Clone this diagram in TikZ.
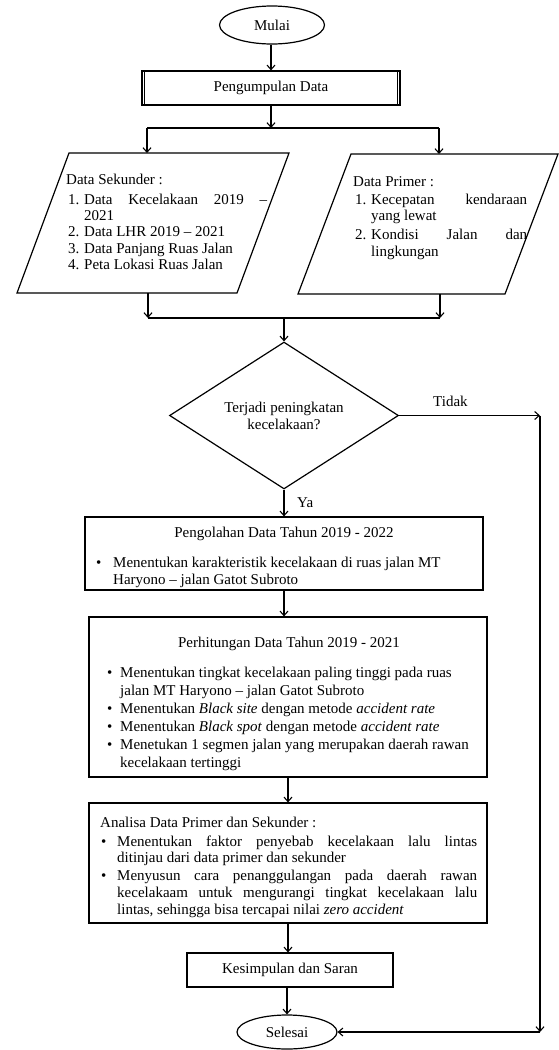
\documentclass[tikz,border=0pt]{standalone}
\usepackage{fontspec}
\setmainfont{Liberation Serif}
\usetikzlibrary{arrows.meta,shapes.geometric}
\begin{document}
\begin{tikzpicture}[x=1pt,y=-1pt,
  ln/.style={line width=1.1pt},
  arr/.style={line width=1.1pt,-{Straight Barb[length=4.5pt,width=8pt]}},
  box/.style={draw,line width=1.2pt,rectangle,inner sep=0pt},
  oval/.style={draw,line width=1.2pt,ellipse,inner sep=0pt,font=\fontsize{15}{18}\selectfont},
  txt/.style={inner sep=0pt,font=\fontsize{15}{18}\selectfont},
  bl/.style={txt,anchor=base west}]
\useasboundingbox (0,0) rectangle (559,1050);

% start
\node[oval,minimum width=105pt,minimum height=38pt] (mulai) at (272,25) {Mulai};
\node[box,minimum width=258pt,minimum height=34pt,font=\fontsize{15}{18}\selectfont] (kumpul) at (271,88) {Pengumpulan Data};
\draw[ln] ([xshift=3pt]kumpul.north west) -- ([xshift=3pt]kumpul.south west);
\draw[ln] ([xshift=-3pt]kumpul.north east) -- ([xshift=-3pt]kumpul.south east);
\draw[arr] (mulai.south -| kumpul.north) -- (kumpul.north);

% split
\coordinate (split) at (271,128);
\coordinate (sL) at (147,128);
\coordinate (sR) at (439,128);
\draw[arr] (kumpul.south) -- (split);
\draw[ln] (sL) -- (sR);

% left parallelogram
\coordinate (pLtl) at (69,153);
\coordinate (pLtr) at (289,153);
\coordinate (pLbr) at (237,293);
\coordinate (pLbl) at (17,293);
\draw[line width=1.2pt,line join=miter] (pLtl) -- (pLtr) -- (pLbr) -- (pLbl) -- cycle;
\draw[arr] (sL) -- (sL |- pLtl);
\node[bl] (sek0) at (66,184) {Data Sekunder :};
\node[bl] (sek1n) at (68,204) {1.};
\node[bl] (sek1) at (84,204) {\makebox[183pt][s]{Data Kecelakaan 2019 –}};
\node[bl] (sek1b) at (84,220) {2021};
\node[bl] (sek2n) at (68,236.5) {2.};
\node[bl] (sek2) at (84,236.5) {Data LHR 2019 – 2021};
\node[bl] (sek3n) at (68,253) {3.};
\node[bl] (sek3) at (84,253) {Data Panjang Ruas Jalan};
\node[bl] (sek4n) at (68,269) {4.};
\node[bl] (sek4) at (84,269) {Peta Lokasi Ruas Jalan};

% right parallelogram
\coordinate (pRtl) at (351,154);
\coordinate (pRtr) at (558,154);
\coordinate (pRbr) at (505,294);
\coordinate (pRbl) at (298,294);
\draw[line width=1.2pt,line join=miter] (pRtl) -- (pRtr) -- (pRbr) -- (pRbl) -- cycle;
\draw[arr] (sR) -- (sR |- pRtl);
\node[bl] (pri0) at (353,186) {Data Primer :};
\node[bl] (pri1n) at (355,204) {1.};
\node[bl] (pri1) at (371,204) {\makebox[156pt][s]{Kecepatan kendaraan}};
\node[bl] (pri1b) at (371,220) {yang lewat};
\node[bl] (pri2n) at (355,239) {2.};
\node[bl] (pri2) at (371,239) {\makebox[156pt][s]{Kondisi Jalan dan}};
\node[bl] (pri2b) at (371,256) {lingkungan};

% merge
\coordinate (pLb) at (148,293);
\coordinate (pRb) at (440,294);
\coordinate (mL) at (148,318);
\coordinate (mR) at (440,318);
\coordinate (merge) at (284,318);
\draw[arr] (pLb) -- (mL);
\draw[arr] (pRb) -- (mR);
\draw[ln] (mL) -- (mR);

% decision
\node[diamond,draw,line width=1.2pt,inner sep=0pt,minimum width=229pt,minimum height=145pt,
  align=center,font=\fontsize{15}{17}\selectfont] (dec) at (284,415.5) {Terjadi peningkatan\\kecelakaan?};
\draw[arr] (merge) -- (dec.north);
\node[bl] (tidak) at (433,406) {Tidak};
\node[bl] (ya) at (297,507) {Ya};

% process boxes
\node[box,minimum width=398pt,minimum height=73pt] (olah) at (284,553.5) {};
\node[txt,anchor=base] (olahT) at (284,537) {Pengolahan Data Tahun 2019 - 2022};
\node[bl] (olahB) at (96,567) {\textbullet};
\node[bl] (olah1) at (113,567) {Menentukan karakteristik kecelakaan di ruas jalan MT};
\node[bl] (olah2) at (113,584) {Haryono – jalan Gatot Subroto};

\node[box,minimum width=398pt,minimum height=160pt] (hitung) at (288,697) {};
\node[txt,anchor=base] (hitungT) at (289,647) {Perhitungan Data Tahun 2019 - 2021};
\node[bl] (hB1) at (107,677) {\textbullet};
\node[bl] (h1) at (120,677) {Menentukan tingkat kecelakaan paling tinggi pada ruas};
\node[bl] (h1b) at (120,695) {jalan MT Haryono – jalan Gatot Subroto};
\node[bl] (hB2) at (107,713) {\textbullet};
\node[bl] (h2) at (120,713) {Menentukan \textit{Black site} dengan metode \textit{accident rate}};
\node[bl] (hB3) at (107,731) {\textbullet};
\node[bl] (h3) at (120,731) {Menentukan \textit{Black spot} dengan metode \textit{accident rate}};
\node[bl] (hB4) at (107,749) {\textbullet};
\node[bl] (h4) at (120,749) {Menetukan 1 segmen jalan yang merupakan daerah rawan};
\node[bl] (h4b) at (120,767) {kecelakaan tertinggi};

\node[box,minimum width=398pt,minimum height=120pt] (analisa) at (288,863) {};
\node[bl] (anT) at (100,827) {Analisa Data Primer dan Sekunder :};
\node[bl] (aB1) at (101,846) {\textbullet};
\node[bl] (a1) at (117,846) {\makebox[360pt][s]{Menentukan faktor penyebab kecelakaan lalu lintas}};
\node[bl] (a1b) at (117,862) {ditinjau dari data primer dan sekunder};
\node[bl] (aB2) at (101,880) {\textbullet};
\node[bl] (a2) at (117,880) {\makebox[360pt][s]{Menyusun cara penanggulangan pada daerah rawan}};
\node[bl] (a2b) at (117,897) {\makebox[360pt][s]{kecelakaam untuk mengurangi tingkat kecelakaan lalu}};
\node[bl] (a2c) at (117,914) {lintas, sehingga bisa tercapai nilai \textit{zero accident}};

\node[box,minimum width=206pt,minimum height=34pt,font=\fontsize{15}{18}\selectfont] (simpul) at (290,970) {Kesimpulan dan Saran};
\node[oval,minimum width=100pt,minimum height=34pt] (selesai) at (287,1032) {Selesai};

% connectors
\draw[arr] (dec.south) -- (dec.south |- olah.north);
\draw[arr] (olah.south) -- (olah.south |- hitung.north);
\draw[arr] (hitung.south) -- (hitung.south |- analisa.north);
\draw[arr] (analisa.south) -- (analisa.south |- simpul.north);
\draw[arr] (simpul.south -| selesai.north) -- (selesai.north);

\coordinate (c1) at (540,415.5);
\coordinate (c2) at (540,1032);
\draw[arr] (dec.east) -- (c1);
\draw[arr] (c1) -- (c2);
\draw[arr] (c2) -- (selesai.east);
\end{tikzpicture}
\end{document}
